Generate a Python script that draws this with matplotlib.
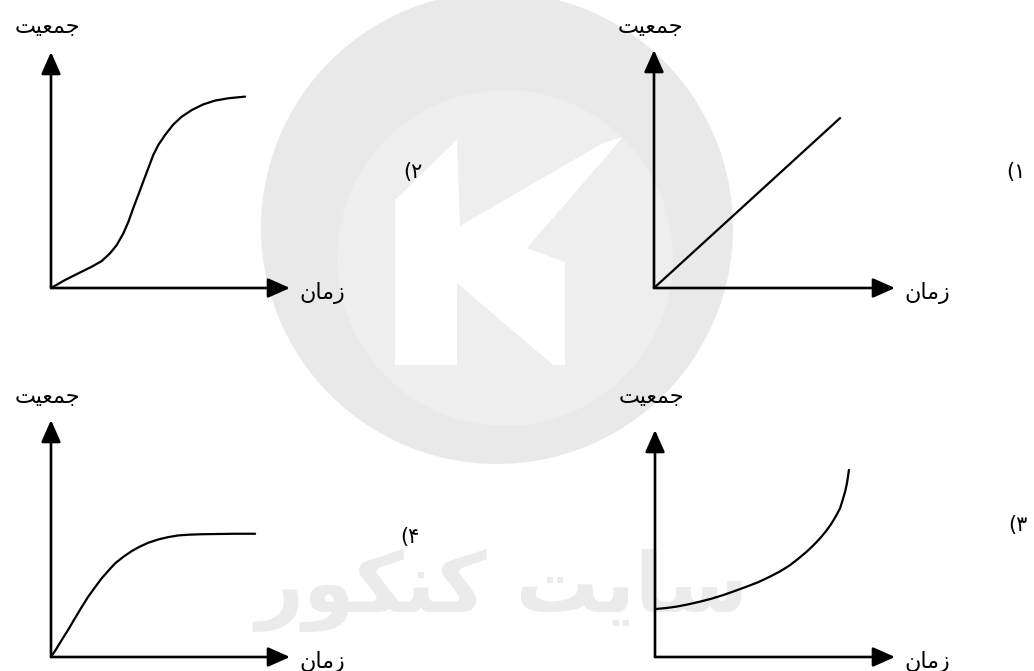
import matplotlib
matplotlib.use("Agg")
import matplotlib.pyplot as plt
from matplotlib.patches import Circle, Polygon

# Persian labels, written in shaped presentation forms (visual order) since
# matplotlib does no Arabic shaping on its own
pop_label = "\uFE96\uFEF4\uFECC\uFEE4\uFE9F"      # جمعیت
time_label = "\uFEE5\uFE8E\uFEE3\uFEAF"            # زمان
watermark = "\uFEAD\uFEEE\uFB91\uFEE8\uFB90 \uFE96\uFEF3\uFE8E\uFEB3"  # سایت کنکور
option_labels = ["(\u06F1", "(\u06F2", "(\u06F3", "(\u06F4"]

# curves, time 0..10 / population 0..10 per panel
t1 = [0.0, 7.72]
p1 = [0.0, 7.14]

t2 = [0.0, 0.59, 1.14, 1.70, 2.12, 2.47, 2.75, 3.03, 3.24, 3.44, 3.65, 3.86,
      4.07, 4.28, 4.49, 4.77, 5.12, 5.47, 5.89, 6.37, 6.86, 7.42, 8.12]
p2 = [0.0, 0.34, 0.62, 0.90, 1.14, 1.47, 1.82, 2.32, 2.81, 3.38, 3.94, 4.51,
      5.07, 5.64, 6.06, 6.48, 6.93, 7.26, 7.54, 7.78, 7.94, 8.04, 8.11]

t3 = [0.0, 0.49, 0.90, 1.39, 1.88, 2.36, 2.85, 3.33, 3.82, 4.31, 4.79, 5.21, 5.63,
      5.97, 6.32, 6.60, 6.88, 7.13, 7.36, 7.54, 7.71, 7.82, 7.92, 7.99, 8.03, 8.08]
p3 = [2.11, 2.16, 2.22, 2.32, 2.44, 2.57, 2.73, 2.91, 3.10, 3.30, 3.54, 3.77, 4.05,
      4.33, 4.64, 4.92, 5.23, 5.55, 5.89, 6.21, 6.55, 6.92, 7.28, 7.61, 7.87, 8.24]

t4 = [0.0, 0.24, 0.45, 0.73, 1.00, 1.28, 1.56, 1.84, 2.12, 2.40, 2.68, 3.03,
      3.38, 3.72, 4.07, 4.49, 4.91, 5.33, 5.75, 6.30, 7.00, 7.70, 8.54]
p4 = [0.0, 0.37, 0.72, 1.17, 1.63, 2.10, 2.55, 2.94, 3.32, 3.64, 3.95, 4.23,
      4.47, 4.66, 4.82, 4.96, 5.06, 5.13, 5.16, 5.18, 5.19, 5.20, 5.20]

W, H = 1034, 671
fig = plt.figure(figsize=(W / 100, H / 100), dpi=100)
fig.patch.set_facecolor("white")

# watermark layer in pixel coordinates
bg = fig.add_axes([0, 0, 1, 1])
bg.set_xlim(0, W)
bg.set_ylim(H, 0)
bg.axis("off")
bg.add_patch(Circle((497, 228), 236, facecolor="#e9e9e9", edgecolor="none"))
bg.add_patch(Circle((505, 258), 168, facecolor="#eeeeee", edgecolor="none"))
k_shape = [(395, 200), (457, 140), (460, 226), (603, 143), (623, 137), (527, 248),
           (565, 262), (565, 365), (553, 365), (457, 283), (457, 365), (395, 365)]
bg.add_patch(Polygon(k_shape, closed=True, facecolor="white", edgecolor="none"))
bg.text(502, 590, watermark, fontsize=60, fontweight="bold", color="#ebebeb",
        ha="center", va="center", family="DejaVu Sans")

# panels: origin pixel, axis length in pixels (x, y), label rows
panels = [
    dict(origin=(654, 288), size=(241, 238), t=t1, p=p1, opt=(1016, 172), top=27),
    dict(origin=(51, 288), size=(239, 236), t=t2, p=p2, opt=(413, 172), top=27),
    dict(origin=(655, 657), size=(240, 227), t=t3, p=p3, opt=(1018, 525), top=397),
    dict(origin=(51, 657), size=(239, 237), t=t4, p=p4, opt=(410, 537), top=397),
]

for i, pn in enumerate(panels):
    ox, oy = pn["origin"]
    w, h = pn["size"]
    ax = fig.add_axes([ox / W, 1 - oy / H, w / W, h / H])
    ax.set_xlim(0, 10)
    ax.set_ylim(0, 10)
    ax.axis("off")
    ax.patch.set_alpha(0)
    arrow = dict(arrowstyle="-|>,head_length=0.45,head_width=0.2", lw=1.9,
                 color="black", mutation_scale=30, shrinkA=0, shrinkB=0)
    ax.annotate("", xy=(10, 0), xytext=(0, 0), arrowprops=arrow, annotation_clip=False)
    ax.annotate("", xy=(0, 10), xytext=(0, 0), arrowprops=arrow, annotation_clip=False)
    ax.plot(pn["t"], pn["p"], color="black", lw=1.6, solid_joinstyle="round",
            solid_capstyle="round", clip_on=False)

    # labels in pixel space
    bg.text(ox - 4, pn["top"], pop_label, fontsize=16, ha="center", va="center")
    bg.text(ox + w + 32, oy + 5, time_label, fontsize=16, ha="center", va="center")
    bg.text(pn["opt"][0], pn["opt"][1], option_labels[i], fontsize=15,
            ha="center", va="center")

fig.savefig("out.png", dpi=100, facecolor="white")
